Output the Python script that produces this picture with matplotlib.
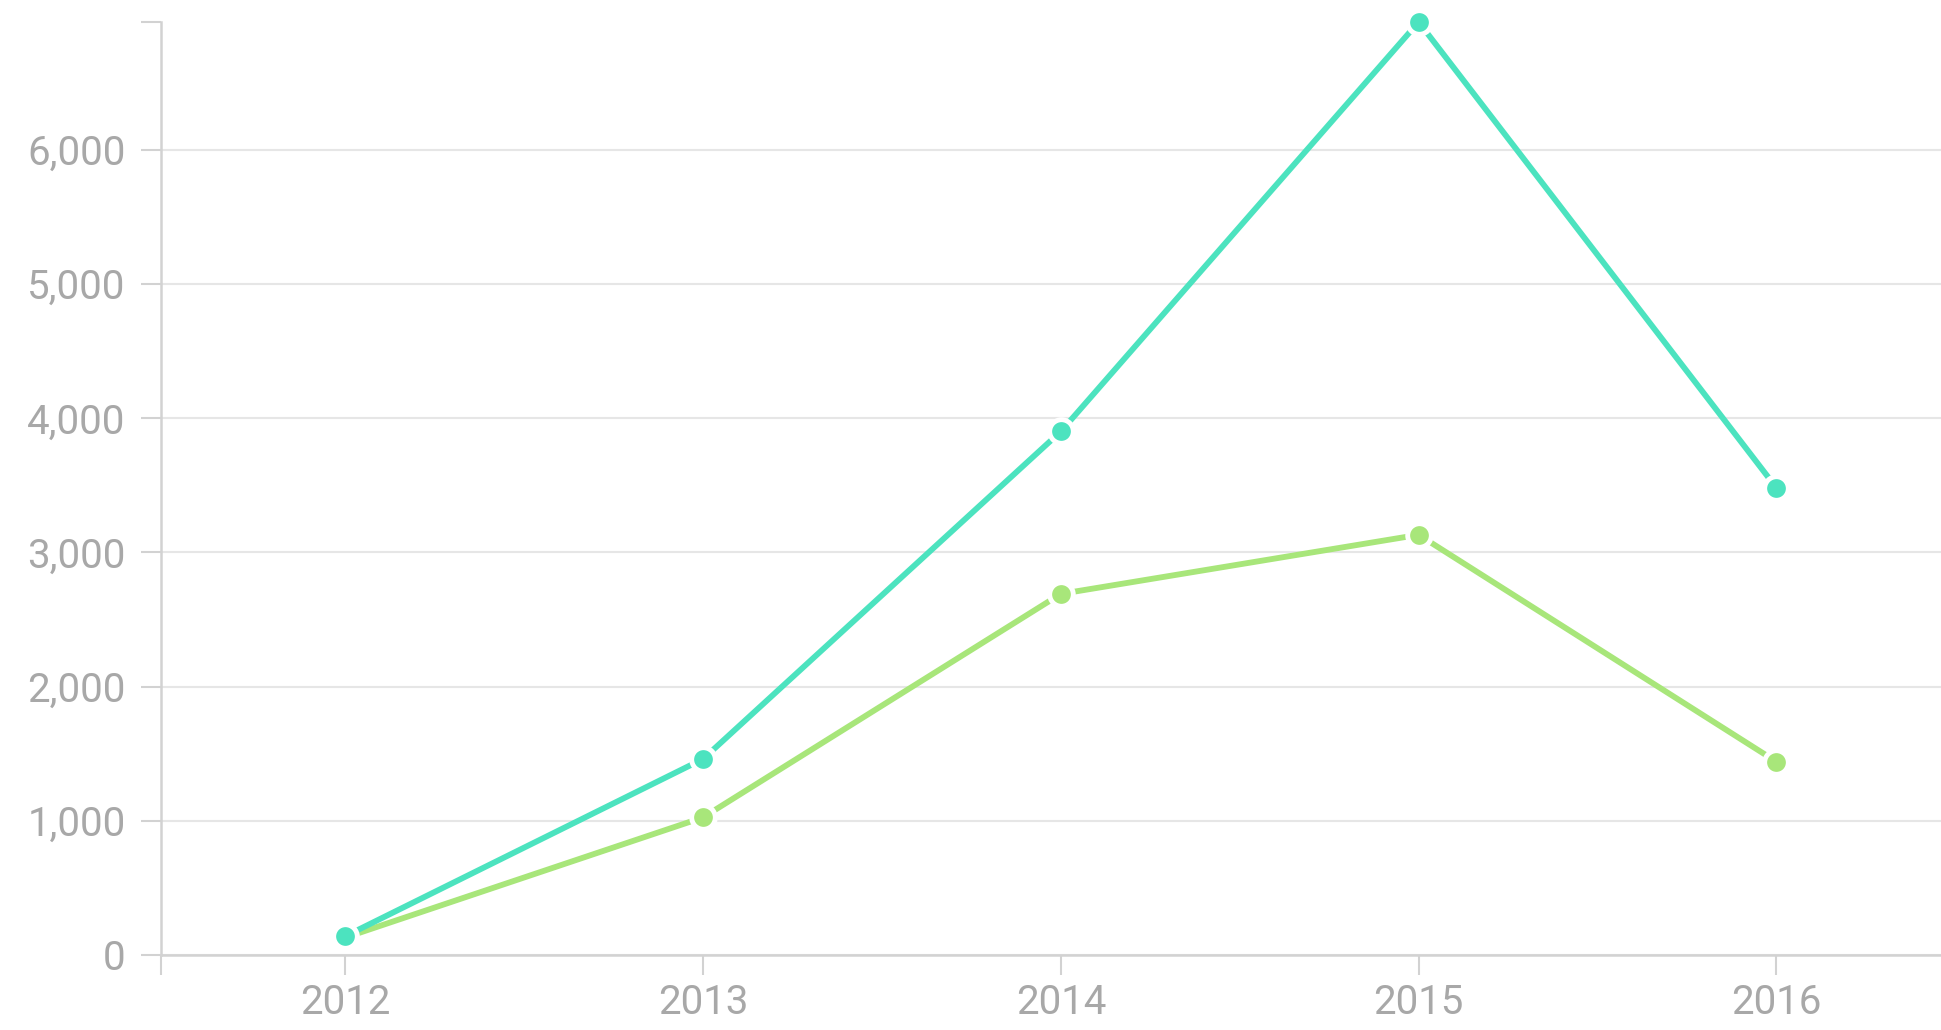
import matplotlib
matplotlib.use('Agg')
from matplotlib import pyplot as plt

years = [2012, 2013, 2014, 2015, 2016]
series_a = [140, 1460, 3900, 6950, 3480]
series_b = [130, 1025, 2690, 3130, 1440]
y_ticks = [0, 1000, 2000, 3000, 4000, 5000, 6000]

teal = '#4ce3bf'
green = '#a8e67a'
axis_grey = '#d2d2d2'
grid_grey = '#e6e6e6'
text_grey = '#a8a8a8'

plt.rcParams['font.family'] = ['Roboto', 'DejaVu Sans']

fig = plt.figure(figsize=(19.41, 10.30), dpi=100)
ax = fig.add_axes([161 / 1941, 75 / 1030, 1 - 161 / 1941, (955 - 22) / 1030])

ax.plot(years, series_b, color=green, lw=4.2, marker='o', ms=17,
        mfc=green, mec='white', mew=3.5, zorder=3, clip_on=False)
ax.plot(years, series_a, color=teal, lw=4.2, marker='o', ms=17,
        mfc=teal, mec='white', mew=3.5, zorder=4, clip_on=False)

ax.set_xlim(2011.485, 2016.46)
ax.set_ylim(0, max(series_a))

ax.set_xticks(years)
ax.set_xticklabels([str(y) for y in years])
ax.set_yticks(y_ticks)
ax.set_yticklabels([f'{v:,}' for v in y_ticks])
# outer ticks at the ends of the axis domains
ax.set_xticks([2011.485], minor=True)
ax.set_yticks([max(series_a)], minor=True)

ax.grid(axis='y', color=grid_grey, lw=1.5, zorder=0)
ax.set_axisbelow(True)

for side in ['top', 'right']:
    ax.spines[side].set_visible(False)
for side in ['left', 'bottom']:
    ax.spines[side].set_color(axis_grey)
    ax.spines[side].set_linewidth(1.8)

ax.tick_params(which='both', length=14.5, width=1.5, color=axis_grey,
               labelcolor=text_grey, labelsize=29)
ax.tick_params(axis='y', pad=11)
ax.tick_params(axis='x', pad=6)

fig.savefig('out.png', dpi=100, facecolor='white')
